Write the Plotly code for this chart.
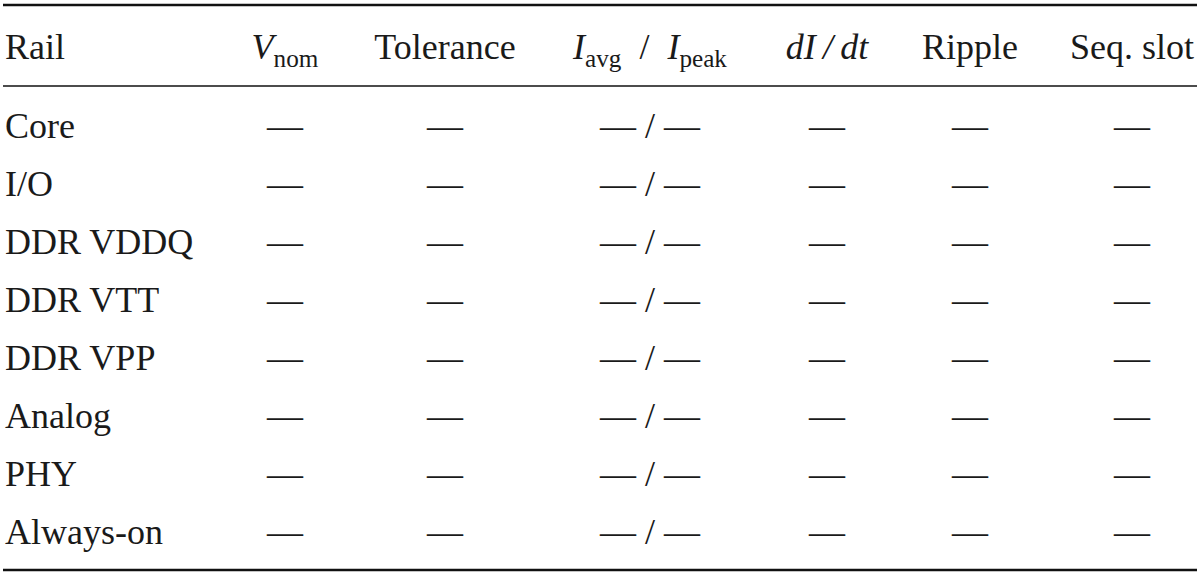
import plotly.graph_objects as go

# ---- data ----
rails = ["Core", "I/O", "DDR VDDQ", "DDR VTT", "DDR VPP", "Analog", "PHY", "Always-on"]
headers = ["Rail", "<i>V</i><sub>nom</sub>", "Tolerance",
           "<i>I</i><sub>avg</sub>\u2002/\u2002<i>I</i><sub>peak</sub>",
           "<i>dI</i>\u2009<i>/</i>\u2009<i>dt</i>", "Ripple", "Seq. slot"]
v_nom = ["—"] * 8
tolerance = ["—"] * 8
i_avg_peak = ["— / —"] * 8
di_dt = ["—"] * 8
ripple = ["—"] * 8
seq_slot = ["—"] * 8

# ---- layout constants ----
W, H = 1200, 575
COL_X = [5, 285, 445, 650, 827, 970, 1132]
ROW0, ROW_STEP = 129, 58.0
HEAD_Y = 50
FONT = "Liberation Serif"
FS = 36
COLOR = "#1a1a1a"

fig = go.Figure()
row_y = [ROW0 + ROW_STEP * i for i in range(len(rails))]

# header
fig.add_trace(go.Scatter(x=[COL_X[0]], y=[HEAD_Y], mode="text", text=[headers[0]],
                         textposition="middle right",
                         textfont=dict(family=FONT, size=FS, color=COLOR),
                         hoverinfo="skip", showlegend=False))
fig.add_trace(go.Scatter(x=COL_X[1:], y=[HEAD_Y] * 6, mode="text", text=headers[1:],
                         textposition="middle center",
                         textfont=dict(family=FONT, size=FS, color=COLOR),
                         hoverinfo="skip", showlegend=False))
# rail names
fig.add_trace(go.Scatter(x=[COL_X[0]] * len(rails), y=row_y, mode="text", text=rails,
                         textposition="middle right",
                         textfont=dict(family=FONT, size=FS, color=COLOR),
                         hoverinfo="skip", showlegend=False))
# data columns
for cx, col in zip(COL_X[1:], [v_nom, tolerance, i_avg_peak, di_dt, ripple, seq_slot]):
    fig.add_trace(go.Scatter(x=[cx] * len(col), y=row_y, mode="text", text=col,
                             textposition="middle center",
                             textfont=dict(family=FONT, size=FS, color=COLOR),
                             hoverinfo="skip", showlegend=False))

# booktabs rules
for ypx, w in [(5, 2.5), (86, 1.6), (570, 2.5)]:
    fig.add_shape(type="line", xref="x", yref="y", x0=3, x1=1197, y0=ypx, y1=ypx,
                  line=dict(color="#111", width=w))

fig.update_layout(
    width=W, height=H, margin=dict(l=0, r=0, t=0, b=0),
    paper_bgcolor="white", plot_bgcolor="white",
    xaxis=dict(range=[0, W], visible=False, fixedrange=True),
    yaxis=dict(range=[H, 0], visible=False, fixedrange=True),
)
fig.write_html("out.html", config={"displayModeBar": False},
               post_script="document.body.style.margin='0';document.body.style.overflow='hidden';")
